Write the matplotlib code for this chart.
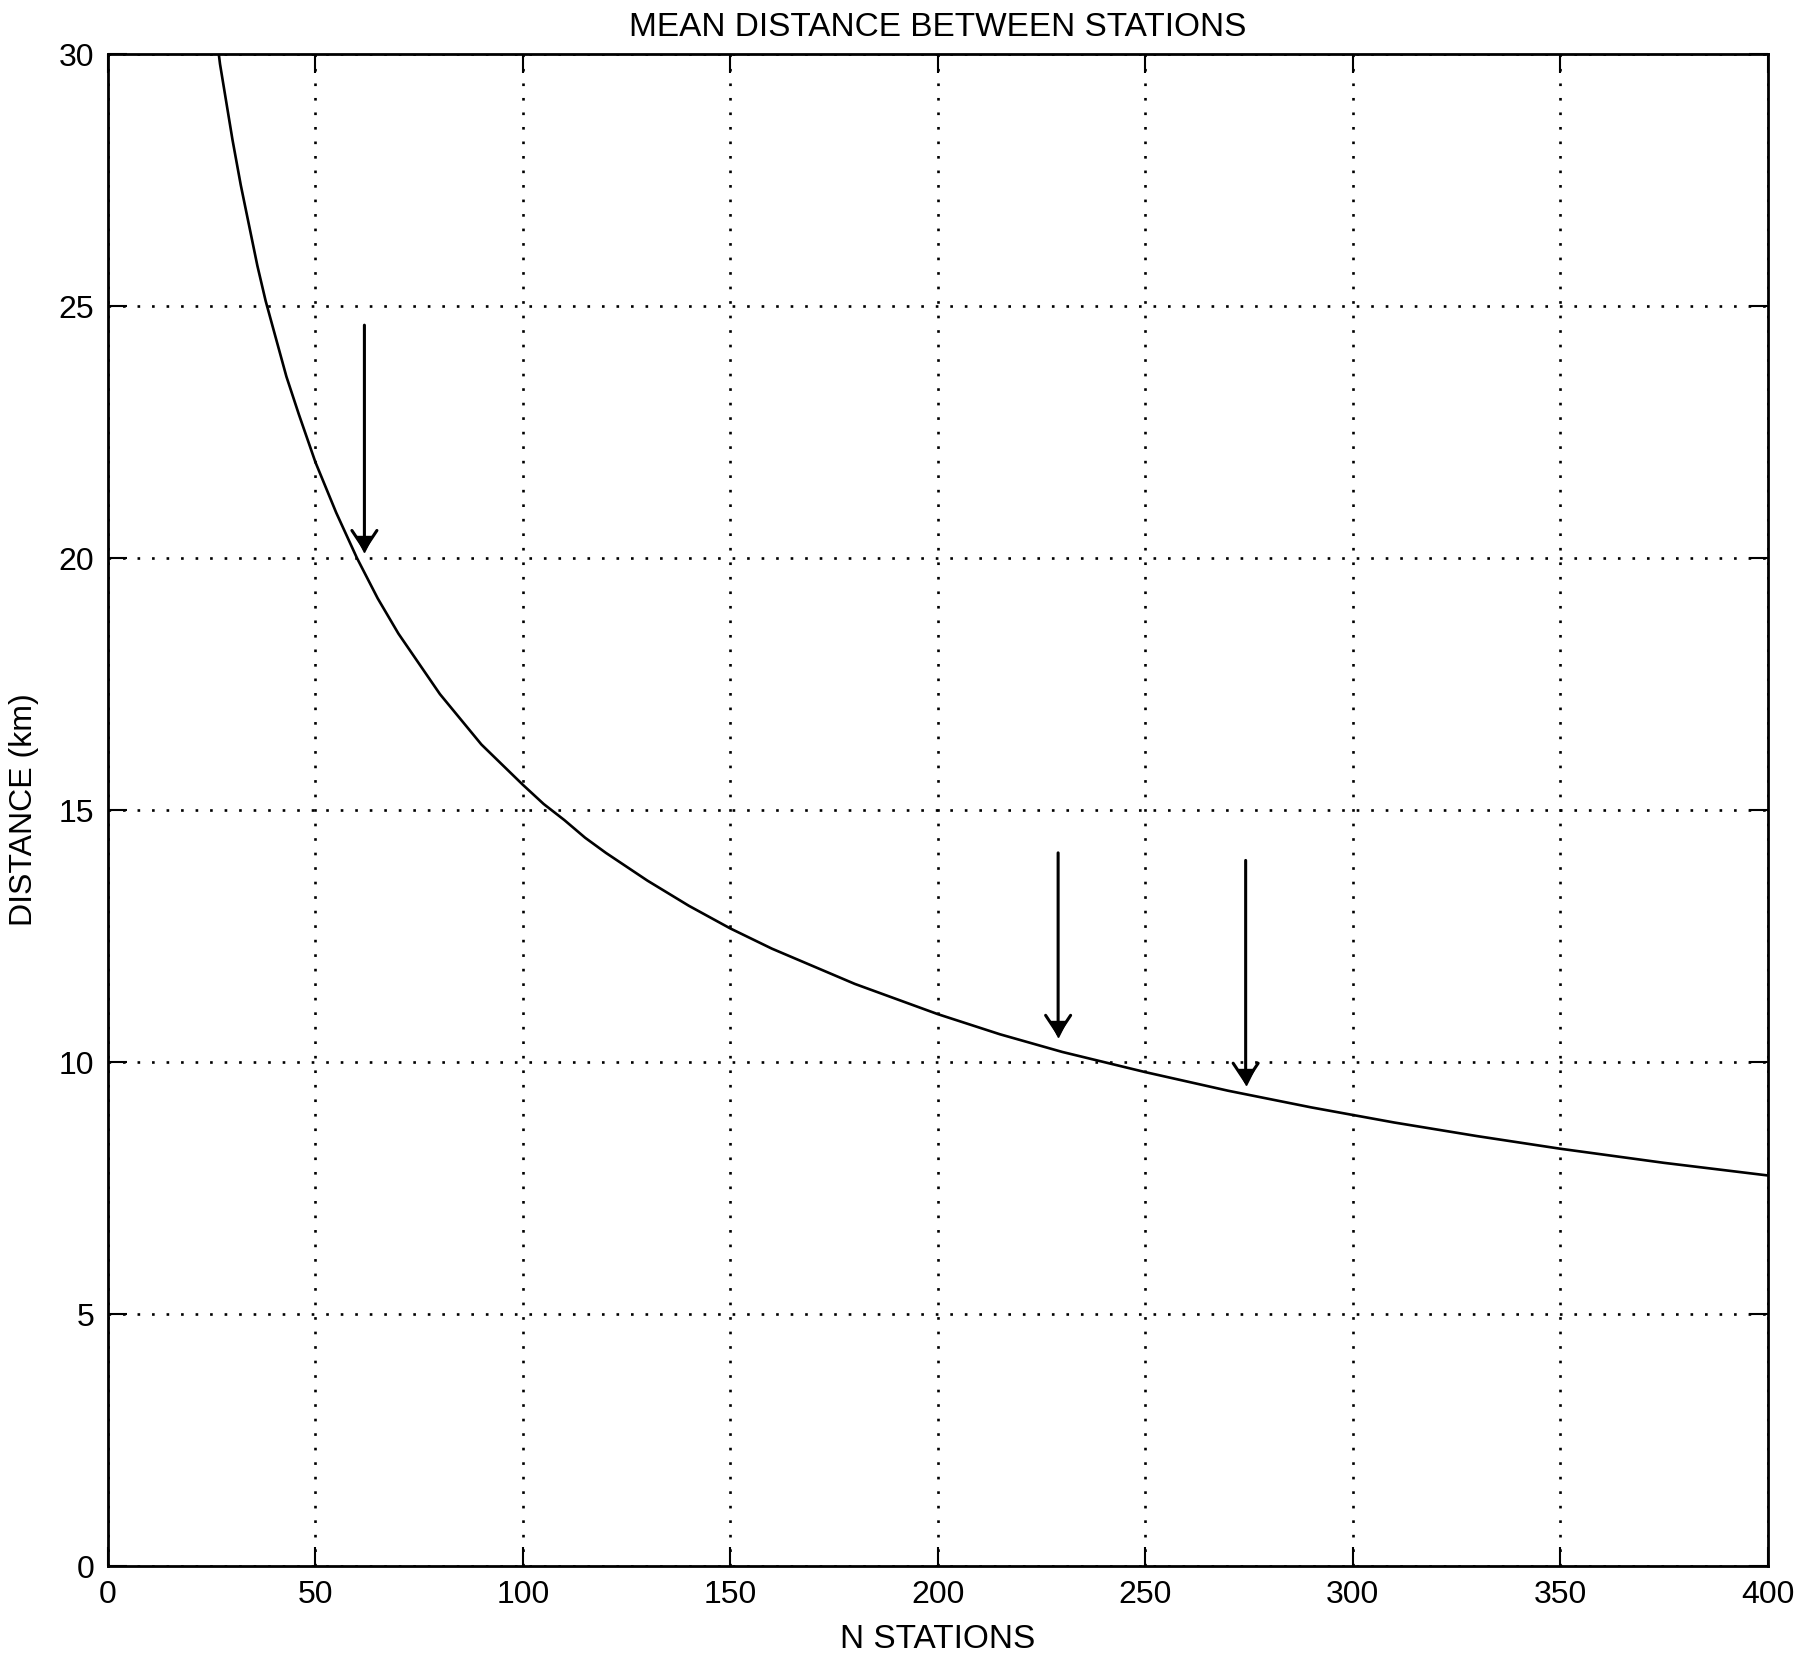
import matplotlib
matplotlib.use("Agg")
import matplotlib.pyplot as plt

# curve
n_stations = [26.7, 27, 28, 29, 30, 32, 34, 36, 38, 40, 43, 46, 50, 55, 60, 65, 70, 75, 80,
              85, 90, 95, 100, 105, 110, 115, 120, 130, 140, 150, 160, 170, 180, 190, 200,
              215, 230, 250, 270, 290, 310, 330, 350, 375, 400]
distance = [30.0, 29.8, 29.3, 28.8, 28.3, 27.4, 26.6, 25.8, 25.1, 24.5, 23.6, 22.85, 21.9,
            20.9, 20.0, 19.2, 18.5, 17.9, 17.3, 16.8, 16.3, 15.9, 15.5, 15.12, 14.8,
            14.45, 14.15, 13.6, 13.1, 12.65, 12.25, 11.9, 11.55, 11.25, 10.95, 10.55,
            10.2, 9.8, 9.43, 9.1, 8.8, 8.53, 8.28, 8.0, 7.75]

# arrows: x, start (top) and tip
arrow_x = [61.8, 229.0, 274.2]
arrow_top = [24.62, 14.15, 14.0]
arrow_tip = [20.12, 10.5, 9.55]

xticks = [0, 50, 100, 150, 200, 250, 300, 350, 400]
yticks = [0, 5, 10, 15, 20, 25, 30]

plt.rcParams['font.family'] = ['Liberation Sans', 'DejaVu Sans']

fig = plt.figure(figsize=(18, 16.57), dpi=100)
ax = fig.add_axes([0.060, 0.0549, 0.922, 0.9125])

ax.plot(n_stations, distance, color='black', lw=1.9)

for x, y0, y1 in zip(arrow_x, arrow_top, arrow_tip):
    ax.annotate('', xy=(x, y1), xytext=(x, y0),
                arrowprops=dict(arrowstyle='->, head_length=0.45, head_width=0.3',
                                color='black', lw=2.2, mutation_scale=30,
                                shrinkA=0, shrinkB=0))
ax.plot(arrow_x, [t + 0.15 for t in arrow_tip], linestyle='none', marker='v',
        ms=11, color='black')

ax.set_xlim(0, 400)
ax.set_ylim(0, 30)
ax.set_xticks(xticks)
ax.set_yticks(yticks)
ax.grid(True, color='black', linestyle=(0, (1, 4.5)), lw=1.9)
ax.tick_params(direction='in', length=14, width=1.5, labelsize=23,
               top=True, right=True, pad=10)
for s in ax.spines.values():
    s.set_linewidth(2)

ax.set_title("MEAN DISTANCE BETWEEN STATIONS", fontsize=24, pad=13)
ax.set_xlabel("N STATIONS", fontsize=24, labelpad=10)
ax.set_ylabel("DISTANCE (km)", fontsize=23, labelpad=14)

fig.savefig("out.png", dpi=100)
